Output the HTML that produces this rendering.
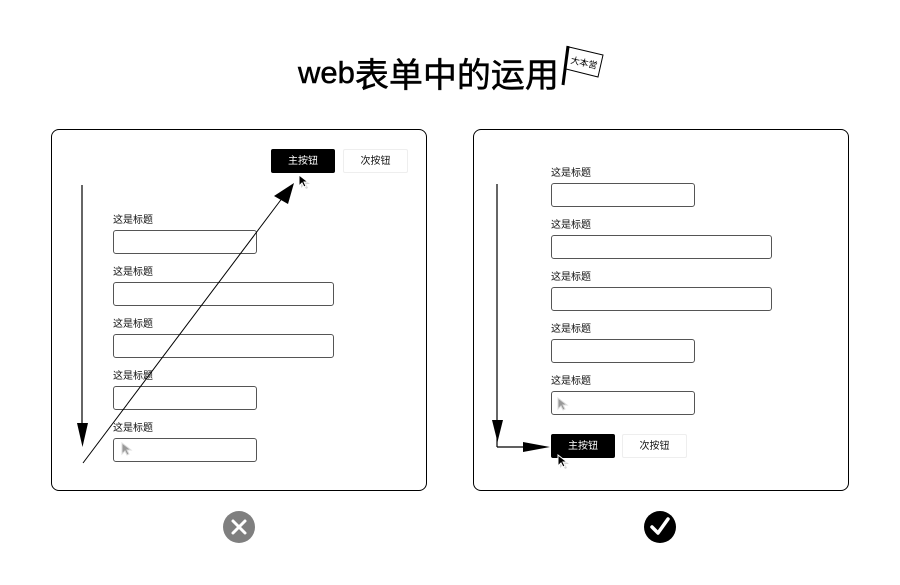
<!DOCTYPE html>
<html><head><meta charset="utf-8">
<style>
*{margin:0;padding:0;box-sizing:border-box}
html,body{width:900px;height:585px;background:#fff;overflow:hidden}
body{position:relative;font-family:"Liberation Sans","Noto Sans CJK SC",sans-serif}
.title{position:absolute;left:298px;top:53px;height:40px;white-space:nowrap;color:#000;line-height:40px;-webkit-text-stroke:0.5px #000}
.title .w{font-family:"Liberation Sans",sans-serif;font-size:31px;vertical-align:top}
.title .c{font-family:"Noto Sans CJK SC",sans-serif;font-size:34px;vertical-align:top;letter-spacing:0}
.panel{position:absolute;border:1px solid #000;border-radius:8px;background:#fff}
.lbl{position:absolute;font-size:10px;line-height:12px;color:#111;font-family:"Liberation Sans","Noto Sans CJK SC",sans-serif}
.inp{position:absolute;height:24px;border:1.5px solid #555;border-radius:3px;background:#fff}
.bp{position:absolute;width:64px;height:24px;background:#000;color:#fff;border-radius:2px;font-size:10px;line-height:25px;text-align:center}
.bs{position:absolute;width:65px;height:24px;background:#fff;color:#111;border:1px solid #eee;border-radius:2px;font-size:10px;line-height:23px;text-align:center}
svg{position:absolute;left:0;top:0}
</style></head><body>

<div class="title"><span class="w">web</span><span class="c">表单中的运用</span></div>

<!-- flag -->
<svg width="900" height="585" style="z-index:1">
  <line x1="563" y1="85" x2="568" y2="46" stroke="#000" stroke-width="3"/>
  <polygon points="569,47 603,55 598,77 566,69" fill="#fff" stroke="#000" stroke-width="1"/>
  <text x="584" y="66" font-size="9" font-family="Noto Sans CJK JP, sans-serif" text-anchor="middle" transform="rotate(13 584 63)">大本営</text>
</svg>

<div class="panel" style="left:51px;top:129px;width:376px;height:362px"></div>
<div class="panel" style="left:473px;top:129px;width:376px;height:362px"></div>

<!-- left panel -->
<div class="bp" style="left:271px;top:149px">主按钮</div>
<div class="bs" style="left:343px;top:149px">次按钮</div>

<div class="lbl" style="left:113px;top:215px">这是标题</div>
<div class="inp" style="left:113px;top:230px;width:144px"></div>
<div class="lbl" style="left:113px;top:267px">这是标题</div>
<div class="inp" style="left:113px;top:282px;width:221px"></div>
<div class="lbl" style="left:113px;top:319px">这是标题</div>
<div class="inp" style="left:113px;top:334px;width:221px"></div>
<div class="lbl" style="left:113px;top:371px">这是标题</div>
<div class="inp" style="left:113px;top:386px;width:144px"></div>
<div class="lbl" style="left:113px;top:423px">这是标题</div>
<div class="inp" style="left:113px;top:438px;width:144px"></div>

<!-- right panel -->
<div class="lbl" style="left:551px;top:168px">这是标题</div>
<div class="inp" style="left:551px;top:183px;width:144px"></div>
<div class="lbl" style="left:551px;top:220px">这是标题</div>
<div class="inp" style="left:551px;top:235px;width:221px"></div>
<div class="lbl" style="left:551px;top:272px">这是标题</div>
<div class="inp" style="left:551px;top:287px;width:221px"></div>
<div class="lbl" style="left:551px;top:324px">这是标题</div>
<div class="inp" style="left:551px;top:339px;width:144px"></div>
<div class="lbl" style="left:551px;top:376px">这是标题</div>
<div class="inp" style="left:551px;top:391px;width:144px"></div>

<div class="bp" style="left:551px;top:434px">主按钮</div>
<div class="bs" style="left:622px;top:434px">次按钮</div>

<svg width="900" height="585" style="z-index:2">
  <defs>
    <g id="cur">
      <polygon points="1,1 1,12 4,9 6,13 8,12 6,8 10,8" fill="#bbb" opacity="0.6" transform="translate(1,1)"/>
      <polygon points="0,0 0,11 3,8 5,12 7,11 5,7 9,7" fill="#000" stroke="#fff" stroke-width="1"/>
    </g>
    <g id="curg">
      <polygon points="0,0 0,11 3,8 5,12 7,11 5,7 9,7" fill="#999" stroke="#ddd" stroke-width="1"/>
    </g>
  </defs>
  <!-- left vertical arrow -->
  <line x1="82" y1="185" x2="82" y2="430" stroke="#000" stroke-width="1.2"/>
  <polygon points="77,423 88,423 82.5,447" fill="#000"/>
  <!-- left diagonal arrow -->
  <line x1="83" y1="463" x2="283" y2="197" stroke="#000" stroke-width="1"/>
  <polygon points="294,183 274,196 288,204" fill="#000"/>
  <use href="#cur" x="299" y="175"/>
  <use href="#curg" x="122" y="443"/>

  <!-- right arrows -->
  <line x1="497" y1="184" x2="497" y2="447" stroke="#000" stroke-width="1.2"/>
  <polygon points="492,420 503,420 497.5,442" fill="#000"/>
  <line x1="497" y1="447" x2="530" y2="447" stroke="#000" stroke-width="1.2"/>
  <polygon points="523,442 523,452 550,447" fill="#000"/>
  <use href="#curg" x="558" y="398"/>
  <use href="#cur" x="558" y="455"/>

  <!-- icons -->
  <circle cx="239" cy="527" r="16" fill="#7f7f7f"/>
  <path d="M233,521 L245,533 M245,521 L233,533" stroke="#fff" stroke-width="3" stroke-linecap="round"/>
  <circle cx="660" cy="527" r="16" fill="#000"/>
  <path d="M652,527 L658,533 L668,519" stroke="#fff" stroke-width="3.5" fill="none" stroke-linecap="round" stroke-linejoin="round"/>
</svg>
</body></html>
